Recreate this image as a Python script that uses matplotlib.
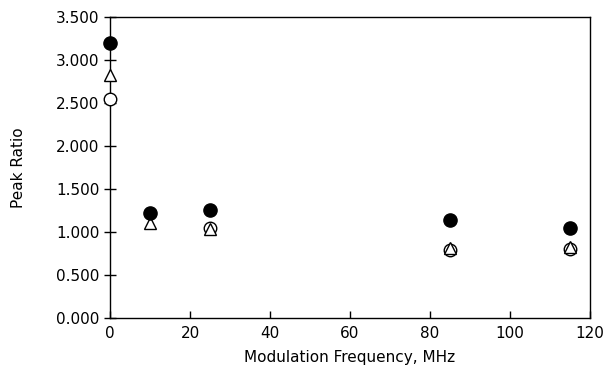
import matplotlib
matplotlib.use("Agg")
import matplotlib.pyplot as plt
from matplotlib.ticker import FormatStrFormatter

freq = [0, 10, 25, 85, 115]
filled = [3.20, 1.22, 1.26, 1.14, 1.05]
triangle = [2.83, 1.11, 1.03, 0.81, 0.82]
freq_open = [0, 25, 85, 115]
open_circ = [2.55, 1.05, 0.79, 0.80]

fig = plt.figure(figsize=(6.08, 3.71), dpi=100)
ax = fig.add_axes([110/608, 1-318/371, 480/608, 301/371])

ax.plot(freq_open, open_circ, 'o', ms=9, mfc='white', mec='black', mew=1.0, zorder=3)
ax.plot(freq, triangle, '^', ms=8, mfc='white', mec='black', mew=1.0, zorder=4)
ax.plot(freq, filled, 'o', ms=9.5, color='black', zorder=5)

ax.set_xlim(0, 120)
ax.set_ylim(0, 3.5)
ax.set_xticks([0, 20, 40, 60, 80, 100, 120])
ax.set_yticks([0, 0.5, 1.0, 1.5, 2.0, 2.5, 3.0, 3.5])
ax.yaxis.set_major_formatter(FormatStrFormatter('%.3f'))
ax.tick_params(axis='y', direction='inout', length=8, width=1, labelsize=11)
ax.tick_params(axis='x', direction='in', length=5, width=1, labelsize=11, pad=6)
for s in ax.spines.values():
    s.set_linewidth(1.0)
for m in ax.lines:
    m.set_clip_on(False)

ax.set_xlabel('Modulation Frequency, MHz', fontsize=11, labelpad=6)
ax.set_ylabel('Peak Ratio', fontsize=11, labelpad=22)

fig.savefig('out.png', dpi=100)
